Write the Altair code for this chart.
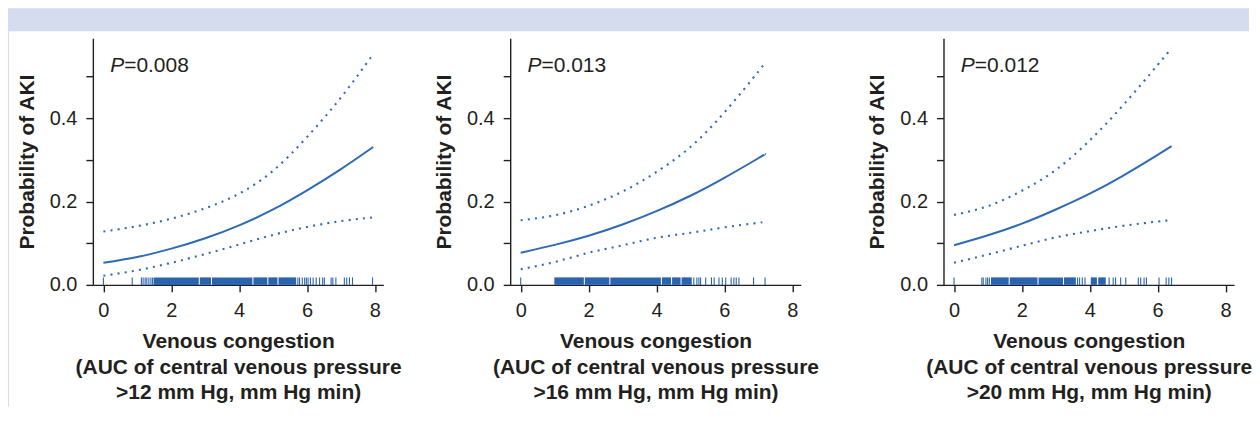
import altair as alt
import pandas as pd

# ---------------- data ----------------
p_values = ["=0.008", "=0.013", "=0.012"]
thresholds = [">12", ">16", ">20"]

x1 = [0, 1, 2, 3, 4, 5, 6, 7, 7.95]
fit1 = [0.053, 0.067, 0.087, 0.112, 0.143, 0.181, 0.227, 0.278, 0.331]
upper1 = [0.128, 0.141, 0.159, 0.184, 0.219, 0.274, 0.355, 0.450, 0.554]
lower1 = [0.022, 0.035, 0.053, 0.074, 0.097, 0.120, 0.139, 0.153, 0.162]

x2 = [0, 1, 2, 3, 4, 5, 6, 7, 7.2]
fit2 = [0.077, 0.096, 0.118, 0.145, 0.177, 0.214, 0.257, 0.304, 0.314]
upper2 = [0.155, 0.167, 0.190, 0.224, 0.271, 0.331, 0.414, 0.512, 0.535]
lower2 = [0.0375, 0.055, 0.077, 0.095, 0.113, 0.125, 0.138, 0.149, 0.151]

x3 = [0, 1, 2, 3, 4, 5, 6, 6.41]
fit3 = [0.095, 0.119, 0.147, 0.181, 0.219, 0.263, 0.312, 0.333]
upper3 = [0.168, 0.189, 0.226, 0.276, 0.347, 0.433, 0.528, 0.568]
lower3 = [0.053, 0.073, 0.094, 0.114, 0.129, 0.142, 0.152, 0.156]

rug1_ticks = [0.00, 0.85, 1.12, 1.17, 1.23, 1.28, 1.34, 1.40, 1.45, 5.73, 5.78,
              5.86, 5.93, 5.98, 6.03, 6.10, 6.18, 6.27, 6.37, 6.46, 6.51, 6.71,
              6.76, 6.85, 7.10, 7.17, 7.25, 7.34, 7.93]
rug1_band_start = [1.48, 2.84, 3.20, 4.42, 4.86, 5.16]
rug1_band_end = [2.81, 3.17, 4.39, 4.83, 5.13, 5.68]

rug2_ticks = [0.00, 5.10, 5.19, 5.25, 5.30, 5.45, 5.62, 5.70, 5.84, 5.94, 6.04,
              6.20, 6.28, 6.35, 6.43, 6.86, 7.20]
rug2_band_start = [0.99, 1.89, 2.64, 4.16, 4.46, 4.74]
rug2_band_end = [1.86, 2.61, 4.13, 4.43, 4.71, 5.04]

rug3_ticks = [0.00, 0.82, 0.86, 0.94, 0.99, 1.04, 3.64, 3.70, 3.78, 3.86, 4.57,
              4.69, 4.76, 4.91, 5.06, 5.43, 5.50, 5.60, 5.67, 6.04, 6.25, 6.33,
              6.41]
rug3_band_start = [1.09, 1.64, 2.49, 3.24, 4.03, 4.25]
rug3_band_end = [1.61, 2.46, 3.21, 3.59, 4.21, 4.47]

p_pos_x = 0.2
p_pos_y = 0.512

x_ticks = [0, 2, 4, 6, 8]
y_ticks = [0, 0.1, 0.2, 0.3, 0.4, 0.5]

# ---------------- styling ----------------
BLUE = "#2e6bb4"
RUG = "#2a64b0"
FRAME = "#d5dcee"
INK = "#231f20"
FONT = "Liberation Sans"
W = 291
H = 247

xscale = alt.Scale(domain=[-0.31, 8.25], nice=False, zero=False)
yscale = alt.Scale(domain=[0, 0.592], nice=False, zero=False)
yaxis = alt.Axis(values=y_ticks, title="Probability of AKI",
                 labelExpr="round(datum.value*10) % 2 == 0 ? format(datum.value, '.1f') : ''")


def panel(xs, fit, up, lo, ticks, bstart, bend, pval, thr, first=False):
    xaxis = alt.Axis(values=x_ticks, format="d",
                     title=["Venous congestion", "(AUC of central venous pressure",
                            thr + " mm Hg, mm Hg min)"])
    X = alt.X("x:Q", scale=xscale, axis=xaxis)
    Y = alt.Y("y:Q", scale=yscale, axis=yaxis)

    fit_df = pd.DataFrame({"x": xs, "y": fit})
    up_df = pd.DataFrame({"x": xs, "y": up})
    lo_df = pd.DataFrame({"x": xs, "y": lo})

    fit_l = alt.Chart(fit_df).mark_line(color=BLUE, strokeWidth=2,
                                        interpolate="natural").encode(x=X, y=Y)
    up_l = alt.Chart(up_df).mark_line(color=BLUE, strokeWidth=2.1, strokeDash=[2, 5.2],
                                      interpolate="natural").encode(x=X, y=Y)
    lo_l = alt.Chart(lo_df).mark_line(color=BLUE, strokeWidth=2.1, strokeDash=[2, 5.2],
                                      interpolate="natural").encode(x=X, y=Y)

    rug_df = pd.DataFrame({"x": ticks})
    rug = alt.Chart(rug_df).mark_rule(color=RUG, strokeWidth=1.1).encode(
        x=alt.X("x:Q", scale=xscale), y=alt.value(H), y2=alt.value(H - 7.5))
    band_df = pd.DataFrame({"x": bstart, "x2": bend})
    band = alt.Chart(band_df).mark_rect(color=RUG).encode(
        x=alt.X("x:Q", scale=xscale), x2="x2:Q", y=alt.value(H), y2=alt.value(H - 7.5))

    txt_df = pd.DataFrame({"x": [p_pos_x], "y": [p_pos_y], "p": ["P"], "v": [pval]})
    p_it = alt.Chart(txt_df).mark_text(align="left", baseline="alphabetic", font=FONT,
                                       fontSize=21, fontStyle="italic", color=INK).encode(
        x=alt.X("x:Q", scale=xscale), y=alt.Y("y:Q", scale=yscale), text="p:N")
    p_val = alt.Chart(txt_df).mark_text(align="left", baseline="alphabetic", font=FONT,
                                        fontSize=21, dx=14, color=INK).encode(
        x=alt.X("x:Q", scale=xscale), y=alt.Y("y:Q", scale=yscale), text="v:N")

    layers = []
    if first:
        deco = pd.DataFrame({"k": [0]})
        top_band = alt.Chart(deco).mark_rect(color=FRAME, clip=False).encode(
            x=alt.value(-85), x2=alt.value(1158), y=alt.value(-30), y2=alt.value(-7))
        left_strip = alt.Chart(deco).mark_rect(color=FRAME, clip=False).encode(
            x=alt.value(-85), x2=alt.value(-84), y=alt.value(-30), y2=alt.value(H + 122))
        layers += [top_band, left_strip]
    layers += [band, rug, up_l, lo_l, fit_l, p_it, p_val]
    return alt.layer(*layers).properties(width=W, height=H)


def spacer(w):
    return alt.Chart(pd.DataFrame({"k": [0]})).mark_point(opacity=0).encode(
        x=alt.value(0), y=alt.value(0)).properties(width=w, height=H)


p1 = panel(x1, fit1, upper1, lower1, rug1_ticks, rug1_band_start, rug1_band_end,
           p_values[0], thresholds[0], first=True)
p2 = panel(x2, fit2, upper2, lower2, rug2_ticks, rug2_band_start, rug2_band_end,
           p_values[1], thresholds[1])
p3 = panel(x3, fit3, upper3, lower3, rug3_ticks, rug3_band_start, rug3_band_end,
           p_values[2], thresholds[2])

chart = alt.hconcat(p1, spacer(126.7), p2, spacer(142.3), p3, spacing=0, bounds="flush").properties(
    padding=0, background="white"
).configure_view(stroke=None).configure_axis(
    grid=False, domainColor=INK, tickColor=INK, labelColor=INK, titleColor=INK,
    domainWidth=1.4, tickWidth=1.4, tickSize=7,
    labelFont=FONT, titleFont=FONT, labelFontSize=20, titleFontSize=21,
    titleFontWeight="bold", labelPadding=9, titlePadding=10, titleLineHeight=25.5,
    labelFlush=False, labelOverlap=False
).configure_axisY(titlePadding=12)

chart.save("out.html", embed_options={"renderer": "svg", "actions": False})
